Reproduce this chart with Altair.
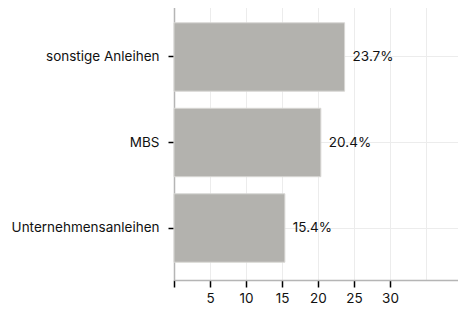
import altair as alt
import pandas as pd

categories = ["sonstige Anleihen", "MBS", "Unternehmensanleihen"]
values = [23.7, 20.4, 15.4]
labels = ["23.7%", "20.4%", "15.4%"]

df = pd.DataFrame({"cat": categories, "val": values, "lab": labels})

FONT = "Inter"
FS = 13.5

x = alt.X(
    "val:Q",
    scale=alt.Scale(domain=[0, 39.45], nice=False, zero=True),
    axis=alt.Axis(
        title=None,
        values=[0, 5, 10, 15, 20, 25, 30, 35],
        labelExpr="datum.value == 0 || datum.value > 30 ? '' : datum.label",
        labelOverlap=False,
        tickColor=alt.ExprRef("datum.value > 30 ? 'transparent' : '#000'"),
        tickSize=7,
        tickWidth=1.5,
        labelPadding=4,
        labelFontSize=FS,
        labelColor="#111",
        labelFont=FONT,
        domainColor="#b5b5b5",
        domainWidth=1.5,
        gridColor="#ececec",
        grid=True,
    ),
)
y = alt.Y(
    "cat:N",
    sort=categories,
    scale=alt.Scale(paddingInner=0.2, paddingOuter=0.208),
    axis=alt.Axis(
        title=None,
        tickColor="#000",
        tickSize=6,
        tickWidth=1.5,
        labelPadding=9,
        labelFontSize=FS,
        labelColor="#111",
        labelFont=FONT,
        domainColor="#b5b5b5",
        domainWidth=1.5,
        grid=True,
        gridColor="#ececec",
    ),
)

bars = alt.Chart(df).mark_bar(color="#b3b2ae", stroke="#d8d7d4", strokeWidth=1).encode(x=x, y=y)
text = alt.Chart(df).mark_text(align="left", baseline="middle", dx=8, fontSize=FS, font=FONT, color="#111").encode(
    x=x, y=y, text="lab:N"
)

chart = (
    (bars + text)
    .properties(
        width=284,
        height=275,
        autosize=alt.AutoSizeParams(type="none"),
        padding={"left": 166, "top": -3, "right": 0, "bottom": 25},
    )
    .configure_view(stroke=None)
)

chart.save("out.html", embed_options={"renderer": "svg", "actions": False})
